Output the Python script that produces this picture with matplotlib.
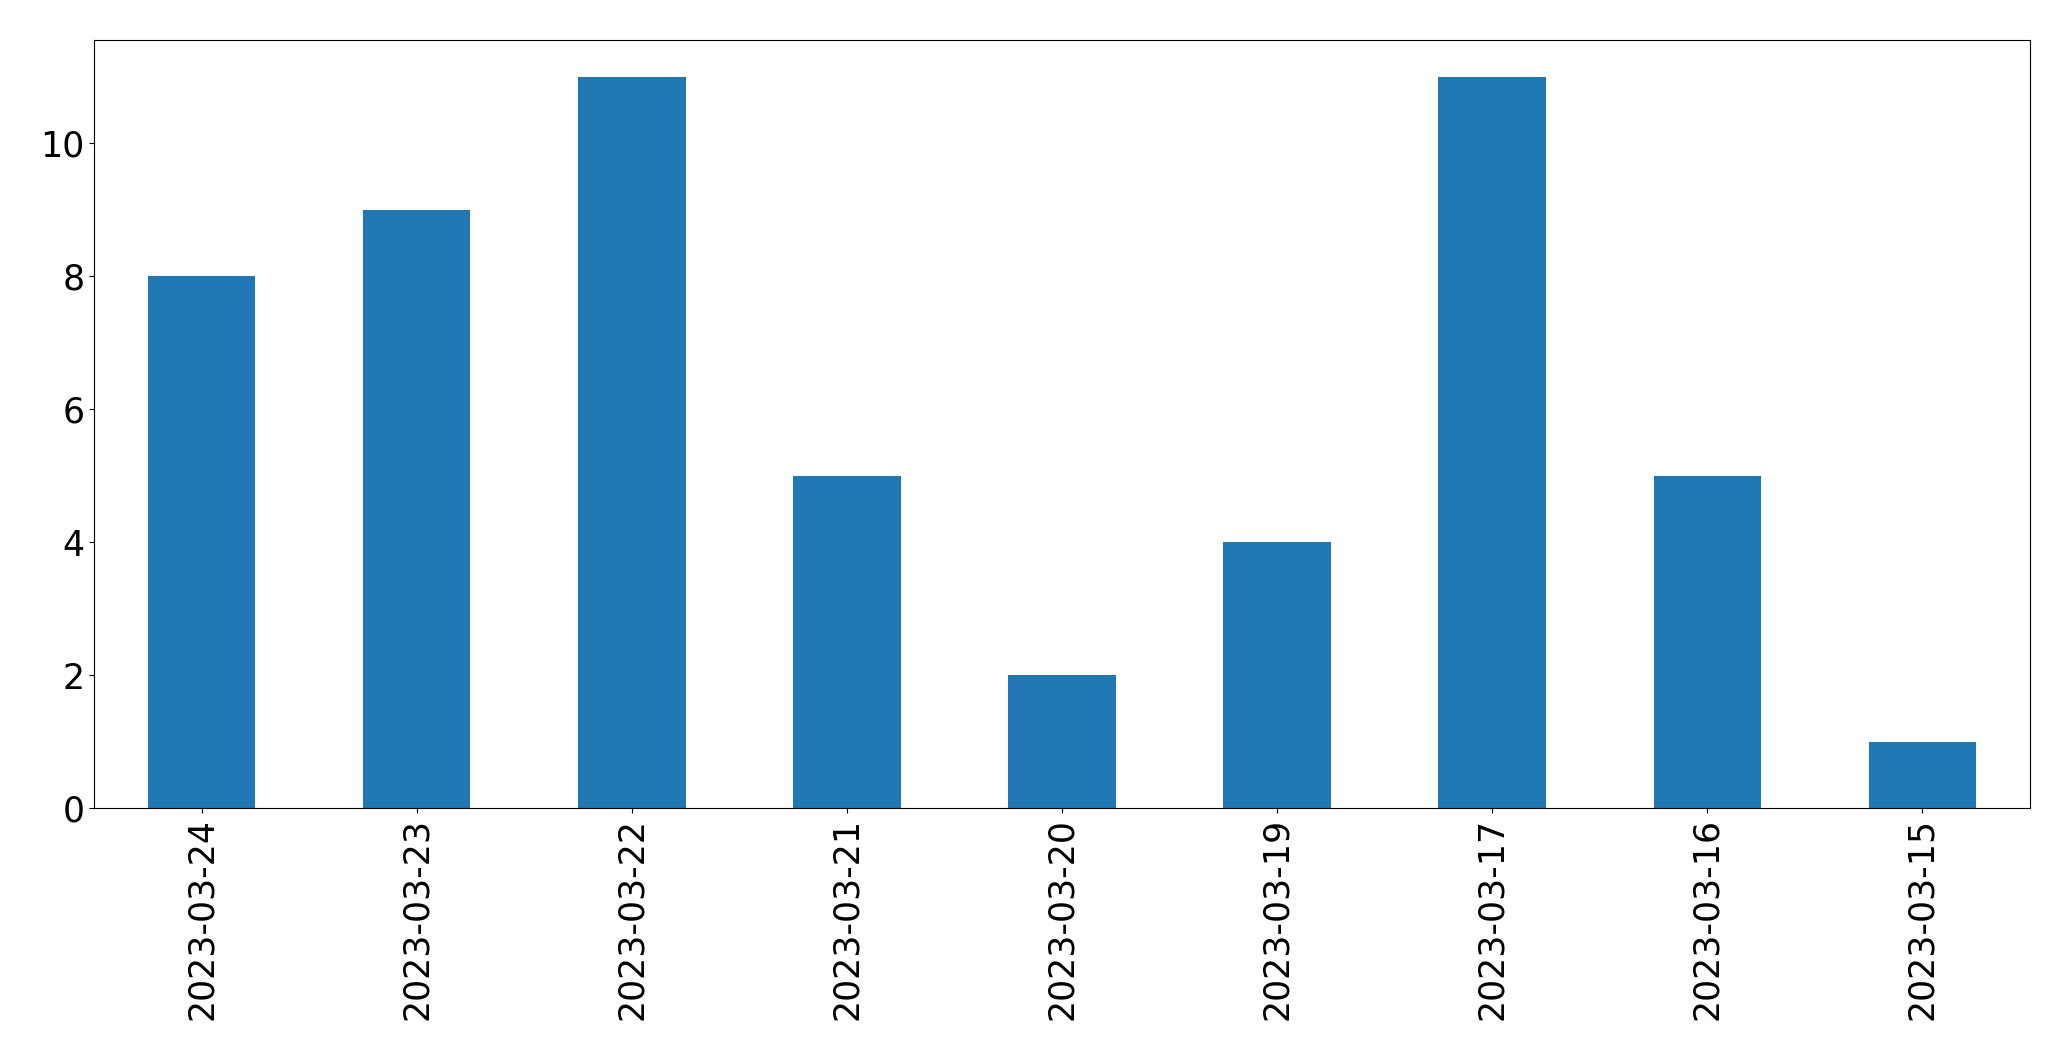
import matplotlib
matplotlib.use("Agg")
import matplotlib.pyplot as plt
import pandas as pd

# counts per day, newest first
dates = ['2023-03-24', '2023-03-23', '2023-03-22', '2023-03-21', '2023-03-20',
         '2023-03-19', '2023-03-17', '2023-03-16', '2023-03-15']
counts = [8, 9, 11, 5, 2, 4, 11, 5, 1]

s = pd.Series(counts, index=dates)

fig = plt.figure(figsize=(20.71, 10.61), dpi=100)
ax = fig.add_axes([94/2071, 1 - 808/1061, (2030-94)/2071, (808-40)/1061])
s.plot(kind='bar', ax=ax, color='#1f77b4', fontsize=25)
ax.set_ylim(0, 11.55)

plt.savefig('out.png', dpi=100)
